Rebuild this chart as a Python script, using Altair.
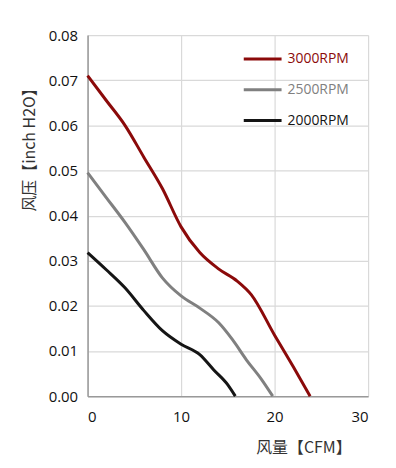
import altair as alt
import pandas as pd

series = ["3000RPM", "2500RPM", "2000RPM"]
colors = ["#8B0A0A", "#808080", "#151515"]
legend_rows = [0, 1, 2]

x_3000 = [0, 2, 4, 6, 8, 10, 12, 14, 16, 17.5, 20, 22, 23.8]
y_3000 = [0.071, 0.0655, 0.0600, 0.0530, 0.0460, 0.0375, 0.0318, 0.0282, 0.0255, 0.0225, 0.0135, 0.0065, 0.0]

x_2500 = [0, 2, 4, 6, 8, 10, 12, 14, 15.5, 17, 18.5, 19.8]
y_2500 = [0.0495, 0.0440, 0.0385, 0.0325, 0.0262, 0.0222, 0.0195, 0.0163, 0.0125, 0.0080, 0.0040, 0.0]

x_2000 = [0, 2, 4, 6, 8, 10, 12, 13.5, 15, 15.8]
y_2000 = [0.0318, 0.0280, 0.0240, 0.0190, 0.0145, 0.0115, 0.0092, 0.0058, 0.0025, 0.0]

x_ticks = [0, 10, 20, 30]
y_ticks = [0, 0.01, 0.02, 0.03, 0.04, 0.05, 0.06, 0.07, 0.08]

rows = []
for name, xs, ys in [("3000RPM", x_3000, y_3000), ("2500RPM", x_2500, y_2500), ("2000RPM", x_2000, y_2000)]:
    for i, (a, b) in enumerate(zip(xs, ys)):
        rows.append({"series": name, "cfm": a, "p": b, "order": i})
df = pd.DataFrame(rows)
leg = pd.DataFrame({"series": series, "row": legend_rows})

color_scale = alt.Scale(domain=series, range=colors)
font = "Open Sans"
cjk = "Noto Sans CJK SC"

lines = alt.Chart(df).mark_line(strokeWidth=3, interpolate="monotone").encode(
    x=alt.X("cfm:Q", scale=alt.Scale(domain=[0, 30], nice=False),
            axis=alt.Axis(values=x_ticks, title="风量【CFM】", titleFont=cjk, titleFontSize=16,
                          titleFontWeight="normal", titleColor="#333", titleX=217, titleY=52,
                          titleAlign="center", titleBaseline="middle",
                          labelFont=font, labelFontSize=15, labelColor="#111",
                          labelPadding=13, tickSize=0, domainColor="#999", domainWidth=1.5,
                          gridColor="#d9d9d9", gridWidth=1.2)),
    y=alt.Y("p:Q", scale=alt.Scale(domain=[0, 0.08], nice=False),
            axis=alt.Axis(values=y_ticks, format=".2f", title="风压【inch H2O】", titleFont=cjk,
                          titleFontSize=16, titleFontWeight="normal", titleColor="#333",
                          titleX=-58, titleY=111, titleAlign="center", titleBaseline="middle",
                          labelFont=font, labelFontSize=15, labelColor="#111",
                          labelPadding=10, tickSize=0, domainColor="#999", domainWidth=1.5,
                          gridColor="#d9d9d9", gridWidth=1.2)),
    color=alt.Color("series:N", scale=color_scale, legend=None),
    order="order:Q",
)

leg_y = alt.Y("row:Q", scale=alt.Scale(domain=[0, 2], range=[24, 86]), axis=None)
leg_rule = alt.Chart(leg).mark_rule(strokeWidth=3).encode(
    x=alt.value(157), x2=alt.value(195), y=leg_y,
    color=alt.Color("series:N", scale=color_scale, legend=None),
)
leg_text = alt.Chart(leg).mark_text(align="left", baseline="middle", font=font, fontSize=14).encode(
    x=alt.value(201), y=leg_y, text="series:N",
    color=alt.Color("series:N", scale=color_scale, legend=None),
)

chart = alt.layer(lines, alt.layer(leg_rule, leg_text)).resolve_scale(y="independent").properties(
    width=282, height=363,
    autosize=alt.AutoSizeParams(type="none"),
    padding={"left": 80, "top": 26, "right": 20, "bottom": 60},
    background="white",
).configure_view(stroke=None)

chart.save("out.html", embed_options={"renderer": "svg", "actions": False})
